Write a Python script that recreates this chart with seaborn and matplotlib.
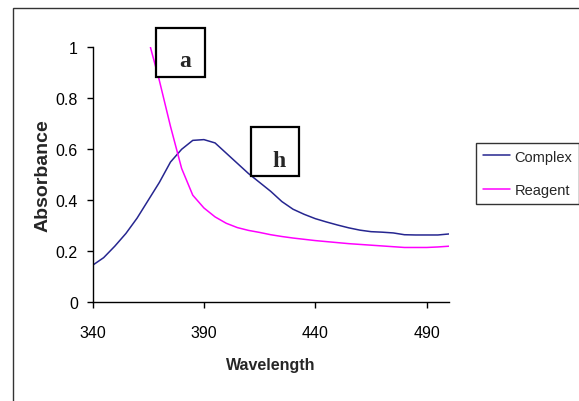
import matplotlib
matplotlib.use("Agg")
import matplotlib.pyplot as plt
import seaborn as sns
import pandas as pd
from matplotlib.patches import Rectangle

complex_wl = [340, 345, 350, 355, 360, 365, 370, 375, 380, 385, 390, 395, 400, 405,
              410, 415, 420, 425, 430, 435, 440, 445, 450, 455, 460, 465, 470, 475,
              480, 485, 490, 495, 500]
complex_abs = [0.145, 0.175, 0.22, 0.27, 0.33, 0.40, 0.47, 0.55, 0.60, 0.635, 0.638,
               0.625, 0.585, 0.545, 0.505, 0.47, 0.435, 0.395, 0.365, 0.345, 0.328,
               0.315, 0.303, 0.292, 0.283, 0.277, 0.275, 0.272, 0.265, 0.264, 0.264,
               0.264, 0.268]
reagent_wl = [366, 370, 375, 380, 385, 390, 395, 400, 405, 410, 415, 420, 425, 430,
              435, 440, 445, 450, 455, 460, 465, 470, 475, 480, 485, 490, 495, 500]
reagent_abs = [1.0, 0.87, 0.69, 0.525, 0.42, 0.37, 0.335, 0.31, 0.293, 0.282, 0.274,
               0.265, 0.258, 0.252, 0.247, 0.242, 0.238, 0.234, 0.23, 0.227, 0.224,
               0.221, 0.218, 0.215, 0.215, 0.215, 0.217, 0.22]
x_ticks = [340, 390, 440, 490]
y_ticks = [0, 0.2, 0.4, 0.6, 0.8, 1]
y_ticklabels = ["0", "0.2", "0.4", "0.6", "0.8", "1"]

sns.set_style("ticks")
plt.rcParams["font.family"] = ["Liberation Sans", "DejaVu Sans"]

W, H = 579, 402
fig = plt.figure(figsize=(W / 100, H / 100), dpi=100)
ax = fig.add_axes([92.5 / W, 1 - 303.3 / H, (449 - 92.5) / W, (303.3 - 48.3) / H])

df_c = pd.DataFrame({"Wavelength": complex_wl, "Absorbance": complex_abs})
df_r = pd.DataFrame({"Wavelength": reagent_wl, "Absorbance": reagent_abs})
sns.lineplot(data=df_c, x="Wavelength", y="Absorbance", ax=ax, color="#262690",
             lw=1.1, label="Complex")
sns.lineplot(data=df_r, x="Wavelength", y="Absorbance", ax=ax, color="#ff00ff",
             lw=1.1, label="Reagent")

ax.set_xlim(340, 500)
ax.set_ylim(0, 1)
ax.set_xticks(x_ticks)
ax.set_xticklabels([str(v) for v in x_ticks])
ax.set_yticks(y_ticks)
ax.set_yticklabels(y_ticklabels)
for s in ["top", "right"]:
    ax.spines[s].set_visible(False)
for s in ["left", "bottom"]:
    ax.spines[s].set_color("black")
    ax.spines[s].set_linewidth(1.0)
ax.tick_params(axis="both", direction="out", length=4.5, width=1, color="black",
               labelsize=11.5, labelcolor="black")
ax.tick_params(axis="x", pad=12)
ax.tick_params(axis="y", pad=6)
ax.set_xlabel("Wavelength", fontsize=11.5, fontweight="bold", labelpad=12)
ax.set_ylabel("Absorbance", fontsize=14, fontweight="bold", labelpad=3)

# annotation boxes
for txt, (x0, y0, x1, y1), (tx, ty) in [("a", (156, 29, 205, 78), (185, 67)),
                                        ("h", (251, 128, 299, 177), (279, 167))]:
    fig.patches.append(Rectangle((x0 / W, 1 - y1 / H), (x1 - x0) / W, (y1 - y0) / H,
                                 transform=fig.transFigure, fill=True, facecolor="white",
                                 edgecolor="black", lw=1.6, zorder=5))
    fig.text(tx / W, 1 - ty / H, txt, ha="center", va="baseline",
             fontsize=17, fontweight="bold", family="Liberation Serif", zorder=6)

leg = ax.legend(loc="upper left", bbox_to_anchor=(476 / W, 1 - 144 / H),
                bbox_transform=fig.transFigure, borderaxespad=0, frameon=True,
                fancybox=False, edgecolor="black", fontsize=10.5, handlelength=1.9,
                handletextpad=0.3, borderpad=0.45, labelspacing=1.35)
leg.get_frame().set_linewidth(1.0)

# outer chart border
fig.patches.append(Rectangle((12.5 / W, -0.1), 1.2, 1 - 9 / H + 0.1,
                             transform=fig.transFigure, fill=False,
                             edgecolor="#333333", lw=1.0, clip_on=False))

fig.savefig("out.png", dpi=100)
